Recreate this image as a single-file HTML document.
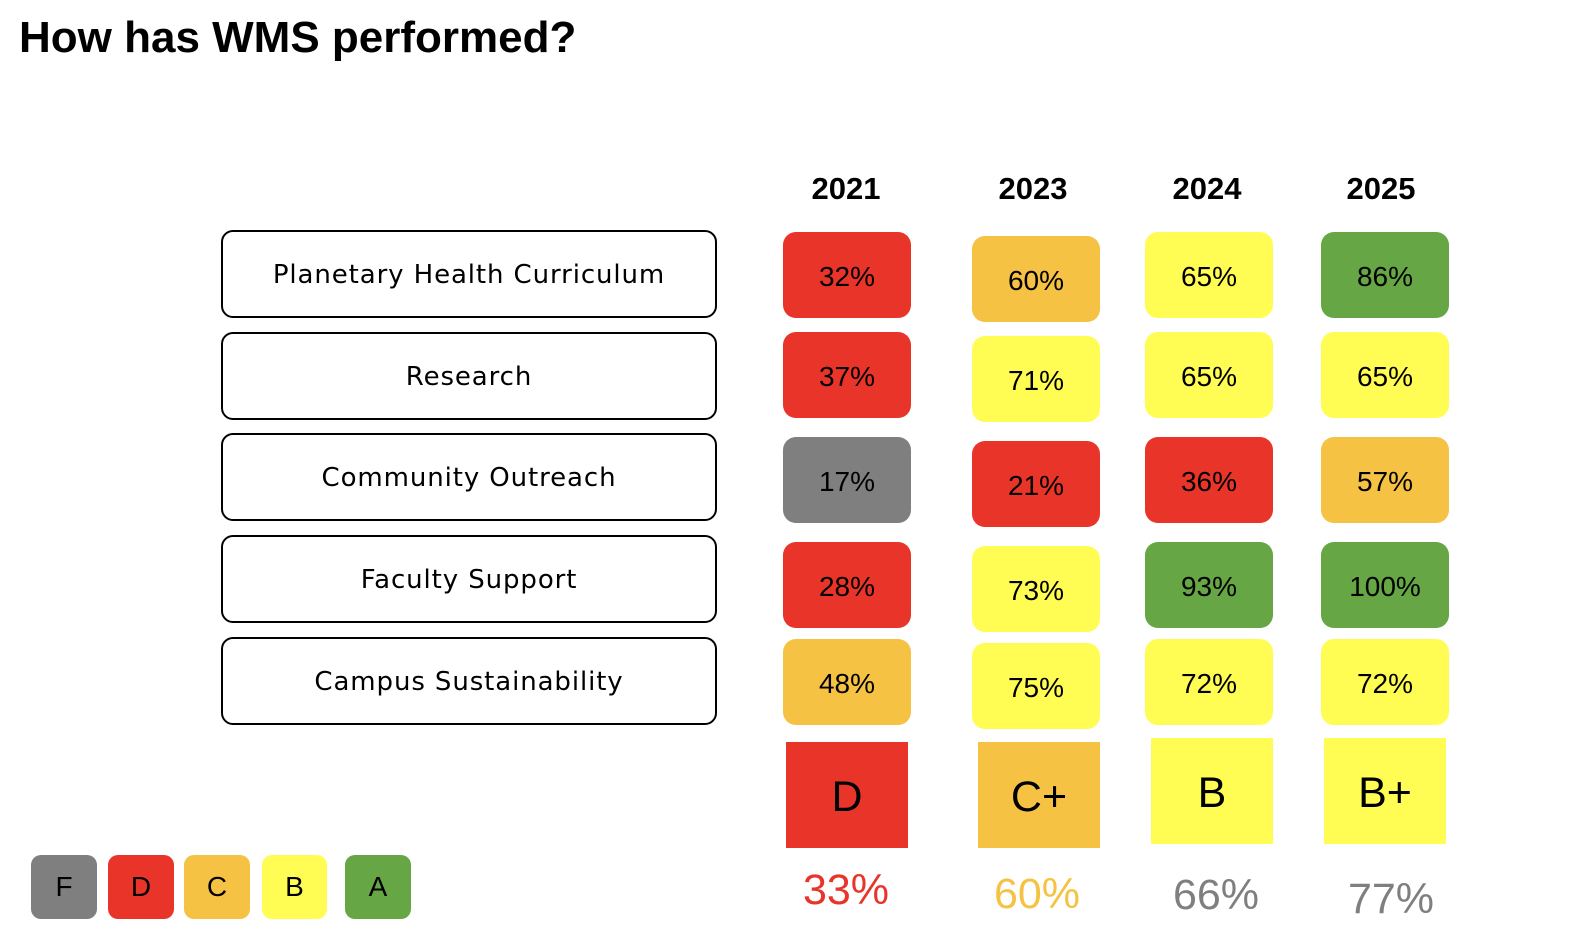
<!DOCTYPE html>
<html>
<head>
<meta charset="utf-8">
<style>
  html, body { margin:0; padding:0; }
  body { width:1594px; height:940px; background:#ffffff; position:relative; overflow:hidden;
         font-family:"Liberation Sans", Arial, sans-serif; color:#000; }
  .abs { position:absolute; }
  .title { left:19px; top:16px; font-size:44px; line-height:44px; font-weight:bold; white-space:nowrap; }
  .yr { top:173px; width:120px; font-size:31px; line-height:31px; font-weight:bold; text-align:center; }
  .lbl { position:absolute; left:221px; width:492px; height:82px; border:2.6px solid #000; border-radius:12px;
         display:flex; align-items:center; justify-content:center; padding-top:2px; box-sizing:content-box;
         font-family:"DejaVu Sans", "Liberation Sans", sans-serif; font-size:26px; letter-spacing:0.9px; }
  .cell { position:absolute; width:128px; height:86px; border-radius:13px;
          display:flex; align-items:center; justify-content:center; font-size:28px; padding-top:3px; box-sizing:border-box; }
  .grade { position:absolute; width:122px; height:106px; display:flex; align-items:center; justify-content:center; font-size:43px; padding-top:5px; box-sizing:border-box; }
  .pct { position:absolute; width:160px; text-align:center; font-size:43px; line-height:43px; }
  .leg { position:absolute; top:855px; width:66px; height:64px; border-radius:10px;
         display:flex; align-items:center; justify-content:center; font-size:28px; }
  .r { background:#E9342A; }
  .o { background:#F5C243; }
  .y { background:#FFFD54; }
  .g { background:#66A644; }
  .k { background:#7F7F7F; }
</style>
</head>
<body>
  <div class="abs title">How has WMS performed?</div>

  <div class="abs yr" style="left:786px;">2021</div>
  <div class="abs yr" style="left:973px;">2023</div>
  <div class="abs yr" style="left:1147px;">2024</div>
  <div class="abs yr" style="left:1321px;">2025</div>

  <div class="lbl" style="top:230px;">Planetary Health Curriculum</div>
  <div class="lbl" style="top:332px;">Research</div>
  <div class="lbl" style="top:433px;">Community Outreach</div>
  <div class="lbl" style="top:535px;">Faculty Support</div>
  <div class="lbl" style="top:637px;">Campus Sustainability</div>

  <!-- 2021 -->
  <div class="cell r" style="left:783px; top:232px;">32%</div>
  <div class="cell r" style="left:783px; top:332px;">37%</div>
  <div class="cell k" style="left:783px; top:437px;">17%</div>
  <div class="cell r" style="left:783px; top:542px;">28%</div>
  <div class="cell o" style="left:783px; top:639px;">48%</div>

  <!-- 2023 -->
  <div class="cell o" style="left:972px; top:236px;">60%</div>
  <div class="cell y" style="left:972px; top:336px;">71%</div>
  <div class="cell r" style="left:972px; top:441px;">21%</div>
  <div class="cell y" style="left:972px; top:546px;">73%</div>
  <div class="cell y" style="left:972px; top:643px;">75%</div>

  <!-- 2024 -->
  <div class="cell y" style="left:1145px; top:232px;">65%</div>
  <div class="cell y" style="left:1145px; top:332px;">65%</div>
  <div class="cell r" style="left:1145px; top:437px;">36%</div>
  <div class="cell g" style="left:1145px; top:542px;">93%</div>
  <div class="cell y" style="left:1145px; top:639px;">72%</div>

  <!-- 2025 -->
  <div class="cell g" style="left:1321px; top:232px;">86%</div>
  <div class="cell y" style="left:1321px; top:332px;">65%</div>
  <div class="cell o" style="left:1321px; top:437px;">57%</div>
  <div class="cell g" style="left:1321px; top:542px;">100%</div>
  <div class="cell y" style="left:1321px; top:639px;">72%</div>

  <!-- grades -->
  <div class="grade r" style="left:786px; top:742px;">D</div>
  <div class="grade o" style="left:978px; top:742px;">C+</div>
  <div class="grade y" style="left:1151px; top:738px;">B</div>
  <div class="grade y" style="left:1324px; top:738px;">B+</div>

  <!-- overall percents -->
  <div class="pct" style="left:766px; top:869px; color:#E9342A;">33%</div>
  <div class="pct" style="left:957px; top:873px; color:#F5C243;">60%</div>
  <div class="pct" style="left:1136px; top:874px; color:#7F7F7F;">66%</div>
  <div class="pct" style="left:1311px; top:878px; color:#7F7F7F;">77%</div>

  <!-- legend -->
  <div class="leg k" style="left:31px;">F</div>
  <div class="leg r" style="left:108px;">D</div>
  <div class="leg o" style="left:184px;">C</div>
  <div class="leg y" style="left:262px; width:65px;">B</div>
  <div class="leg g" style="left:345px;">A</div>
</body>
</html>
